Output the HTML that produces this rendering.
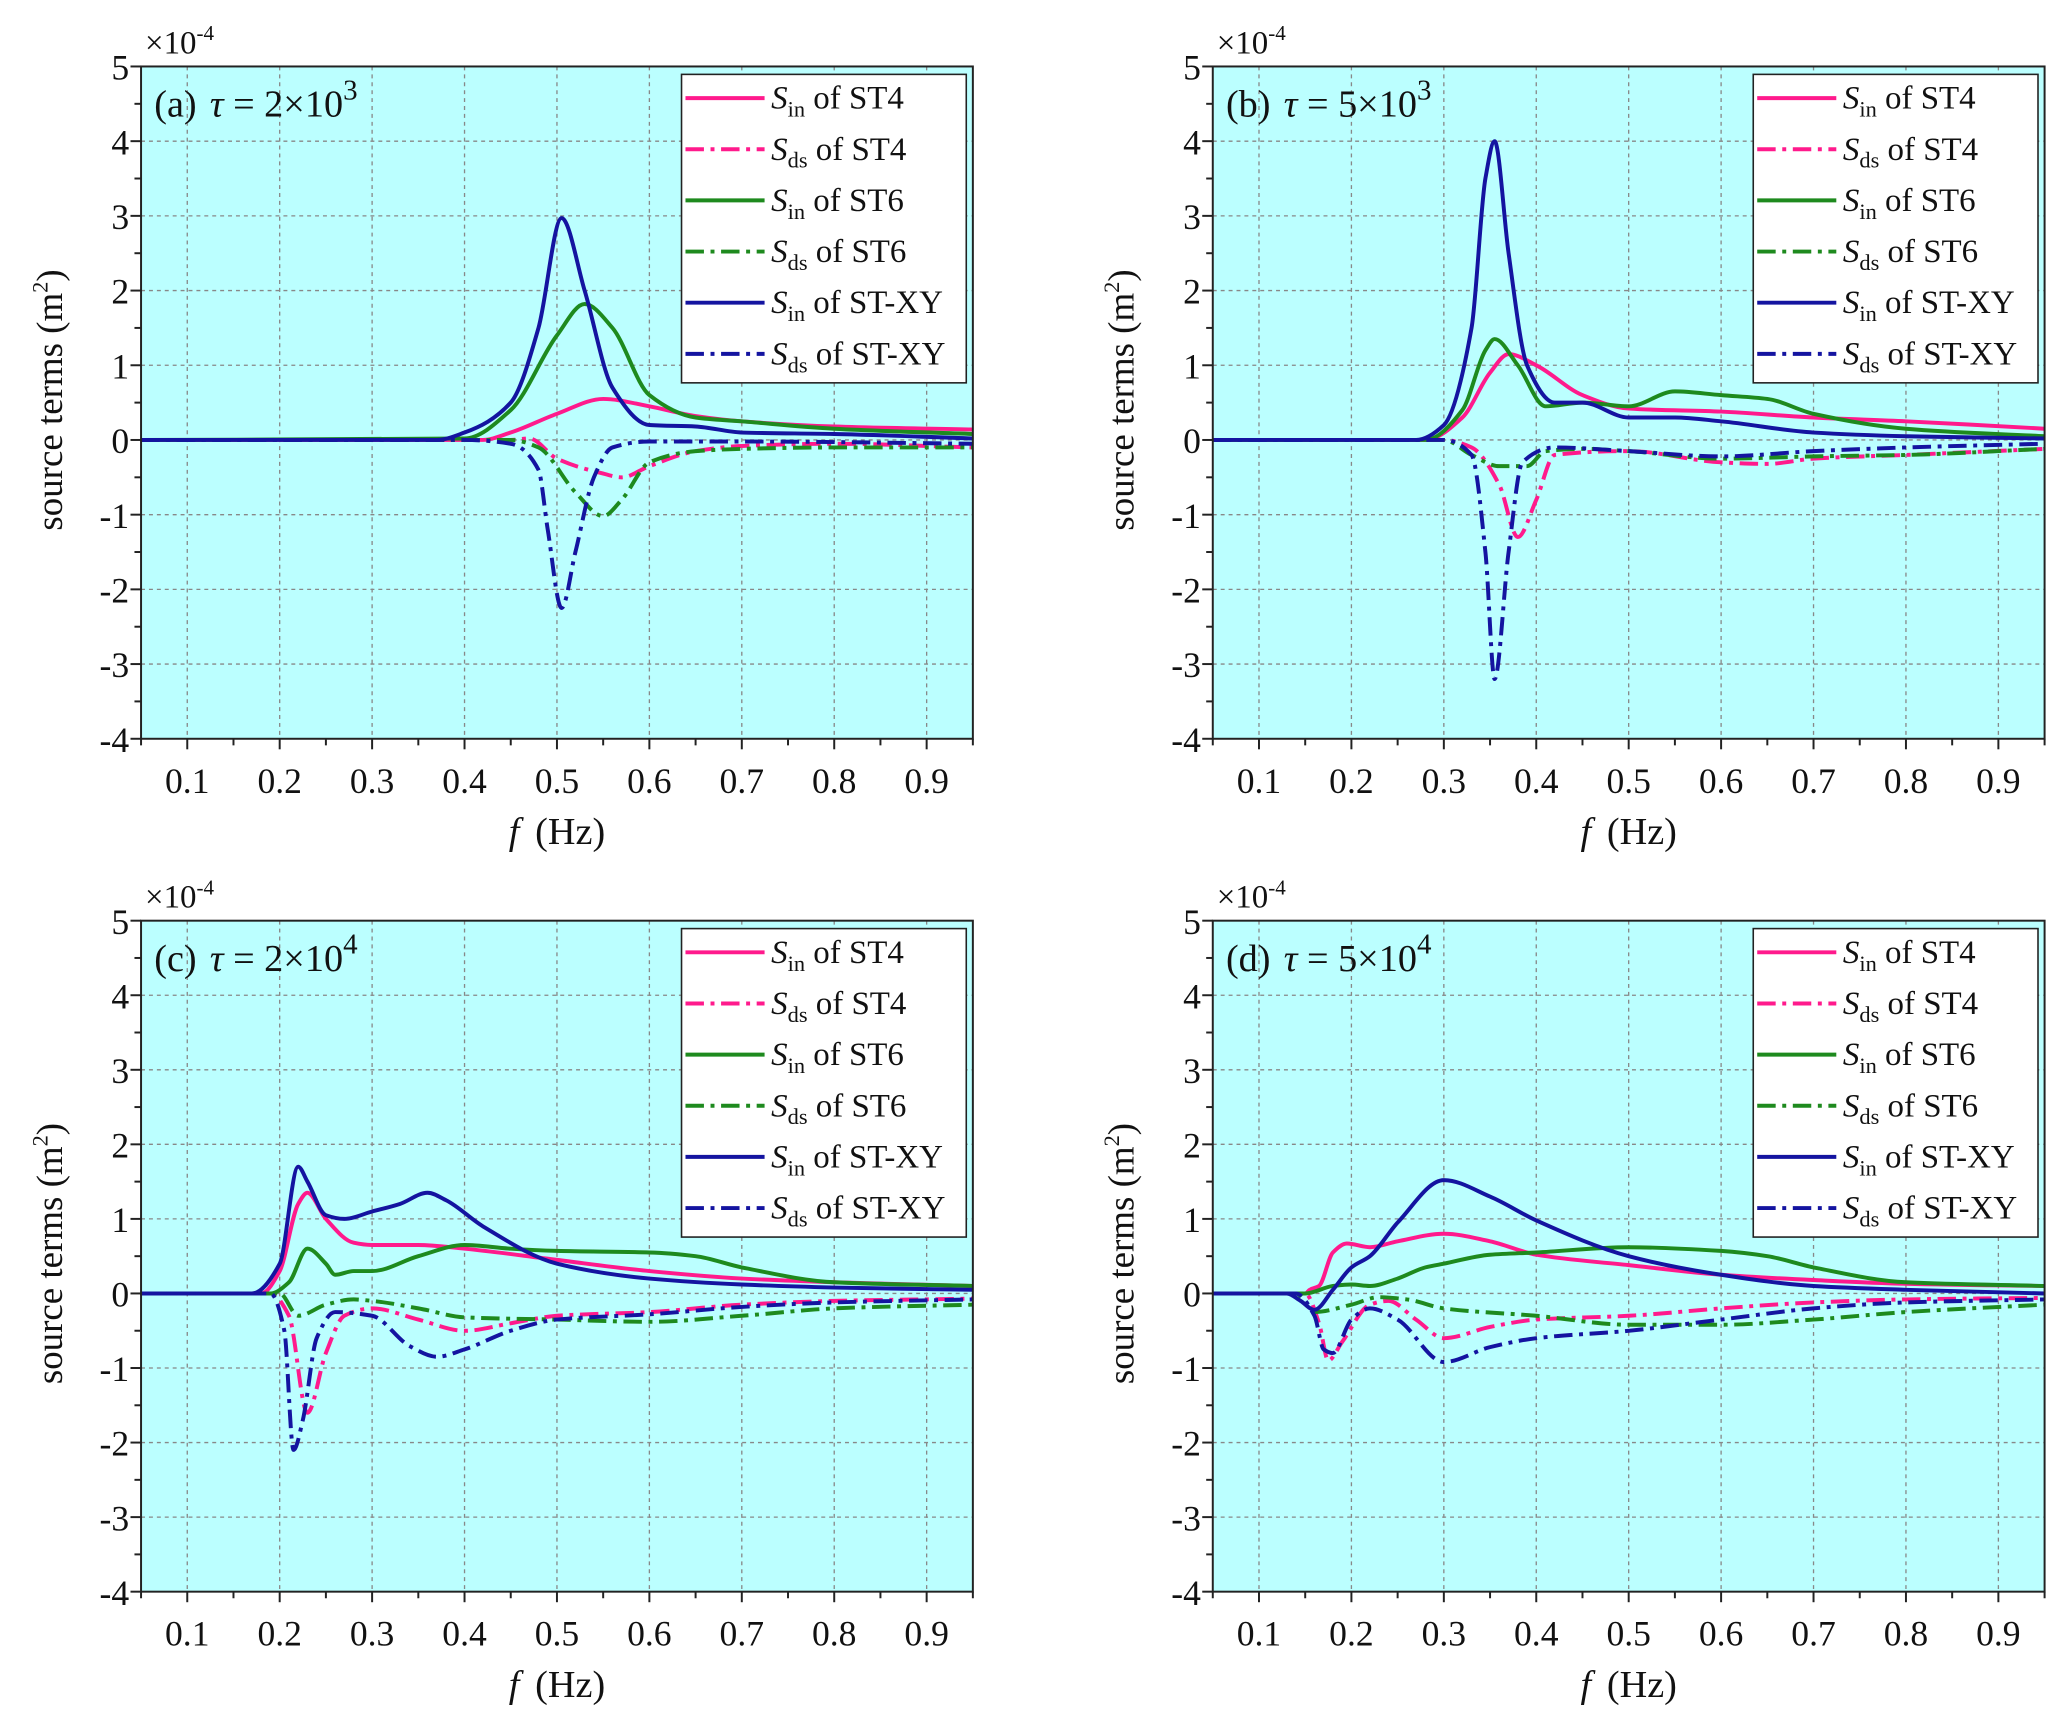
<!DOCTYPE html>
<html><head><meta charset="utf-8"><style>
html,body{margin:0;padding:0;background:#fff}
svg{display:block}
text{font-family:"Liberation Serif",serif;fill:#111}
</style></head><body>
<svg id="fig" width="2067" height="1728" viewBox="0 0 1568 1310" xmlns="http://www.w3.org/2000/svg"></svg>
<script>
const xTicks=[0.1,0.2,0.3,0.4,0.5,0.6,0.7,0.8,0.9];
const yTicks=[-4,-3,-2,-1,0,1,2,3,4,5];
const panelLabels=["(a)","(b)","(c)","(d)"];
const panelTau=[["2","3"],["5","3"],["2","4"],["5","4"]];
const seriesNames=["ST4","ST4","ST6","ST6","ST-XY","ST-XY"];
const seriesKind=["in","ds","in","ds","in","ds"];
// panel a
const fA_in4=[0.05,0.42,0.45,0.5,0.55,0.6,0.65,0.7,0.8,0.95];
const vA_in4=[0,0,0.1,0.35,0.55,0.45,0.32,0.25,0.18,0.14];
const fA_ds4=[0.05,0.45,0.47,0.5,0.55,0.57,0.6,0.65,0.7,0.8,0.95];
const vA_ds4=[0,0,0.02,-0.25,-0.45,-0.5,-0.35,-0.15,-0.08,-0.05,-0.1];
const fA_in6=[0.05,0.4,0.45,0.5,0.53,0.56,0.6,0.65,0.7,0.8,0.95];
const vA_in6=[0,0.02,0.4,1.4,1.82,1.5,0.6,0.3,0.25,0.15,0.08];
const fA_ds6=[0.05,0.45,0.48,0.52,0.55,0.57,0.6,0.65,0.7,0.8,0.95];
const vA_ds6=[0,0,-0.1,-0.7,-1.02,-0.8,-0.3,-0.15,-0.12,-0.1,-0.1];
const fA_inX=[0.05,0.37,0.4,0.45,0.48,0.505,0.53,0.56,0.6,0.65,0.7,0.8,0.95];
const vA_inX=[0,0,0.1,0.5,1.5,2.97,2.0,0.7,0.2,0.18,0.1,0.08,0.02];
const fA_dsX=[0.05,0.4,0.45,0.48,0.49,0.505,0.52,0.54,0.56,0.6,0.7,0.95];
const vA_dsX=[0,0,-0.05,-0.4,-1.2,-2.25,-1.5,-0.5,-0.1,-0.02,-0.02,-0.05];
// panel b
const fB_in4=[0.05,0.28,0.32,0.35,0.37,0.4,0.45,0.5,0.6,0.7,0.8,0.95];
const vB_in4=[0,0,0.3,0.9,1.15,1.0,0.6,0.42,0.38,0.3,0.25,0.15];
const fB_ds4=[0.05,0.3,0.33,0.36,0.38,0.4,0.42,0.5,0.6,0.65,0.7,0.8,0.95];
const vB_ds4=[0,0,-0.1,-0.6,-1.3,-0.8,-0.2,-0.15,-0.3,-0.32,-0.25,-0.2,-0.12];
const fB_in6=[0.05,0.28,0.32,0.345,0.355,0.38,0.41,0.45,0.5,0.55,0.6,0.65,0.7,0.8,0.95];
const vB_in6=[0,0,0.4,1.2,1.35,1.0,0.45,0.5,0.45,0.65,0.6,0.55,0.35,0.15,0.05];
const fB_ds6=[0.05,0.3,0.33,0.36,0.39,0.41,0.45,0.5,0.6,0.7,0.8,0.95];
const vB_ds6=[0,0,-0.2,-0.35,-0.35,-0.15,-0.12,-0.15,-0.25,-0.22,-0.2,-0.12];
const fB_inX=[0.05,0.27,0.3,0.33,0.345,0.355,0.37,0.39,0.42,0.45,0.5,0.55,0.6,0.7,0.8,0.95];
const vB_inX=[0,0,0.2,1.5,3.5,4.0,2.5,1.0,0.5,0.5,0.3,0.3,0.25,0.1,0.05,0.02];
const fB_dsX=[0.05,0.3,0.33,0.345,0.355,0.37,0.385,0.42,0.5,0.6,0.7,0.8,0.95];
const vB_dsX=[0,0,-0.2,-1.5,-3.2,-1.5,-0.3,-0.1,-0.15,-0.22,-0.15,-0.1,-0.05];
// panel c
const fC_in4=[0.05,0.18,0.2,0.22,0.23,0.25,0.28,0.3,0.35,0.4,0.5,0.6,0.7,0.8,0.95];
const vC_in4=[0,0,0.3,1.2,1.35,1.0,0.68,0.65,0.65,0.6,0.45,0.3,0.2,0.15,0.1];
const fC_ds4=[0.05,0.19,0.21,0.23,0.25,0.27,0.3,0.35,0.4,0.45,0.5,0.6,0.7,0.8,0.95];
const vC_ds4=[0,0,-0.3,-1.6,-0.8,-0.3,-0.2,-0.35,-0.5,-0.4,-0.3,-0.25,-0.15,-0.1,-0.07];
const fC_in6=[0.05,0.19,0.21,0.23,0.25,0.26,0.28,0.3,0.35,0.4,0.45,0.5,0.6,0.65,0.7,0.8,0.95];
const vC_in6=[0,0,0.15,0.6,0.4,0.25,0.3,0.3,0.5,0.65,0.6,0.57,0.55,0.5,0.35,0.15,0.1];
const fC_ds6=[0.05,0.2,0.22,0.25,0.28,0.3,0.35,0.4,0.5,0.6,0.7,0.8,0.95];
const vC_ds6=[0,0,-0.3,-0.15,-0.08,-0.1,-0.2,-0.32,-0.35,-0.38,-0.3,-0.2,-0.15];
const fC_inX=[0.05,0.17,0.2,0.22,0.23,0.25,0.27,0.3,0.33,0.36,0.38,0.42,0.5,0.6,0.7,0.8,0.95];
const vC_inX=[0,0,0.4,1.7,1.5,1.05,1.0,1.1,1.2,1.35,1.25,0.9,0.4,0.2,0.12,0.08,0.05];
const fC_dsX=[0.05,0.19,0.205,0.215,0.225,0.24,0.26,0.3,0.34,0.37,0.4,0.45,0.5,0.6,0.7,0.8,0.95];
const vC_dsX=[0,0,-0.5,-2.1,-1.7,-0.6,-0.25,-0.3,-0.7,-0.85,-0.75,-0.5,-0.35,-0.28,-0.18,-0.12,-0.08];
// panel d
const fD_in4=[0.05,0.15,0.155,0.165,0.18,0.195,0.22,0.25,0.3,0.35,0.4,0.5,0.6,0.7,0.8,0.95];
const vD_in4=[0,0,0.05,0.1,0.55,0.67,0.62,0.7,0.8,0.7,0.52,0.38,0.25,0.18,0.13,0.1];
const fD_ds4=[0.05,0.15,0.165,0.175,0.19,0.22,0.24,0.27,0.3,0.35,0.4,0.5,0.6,0.7,0.8,0.95];
const vD_ds4=[0,0,-0.4,-0.9,-0.65,-0.15,-0.1,-0.35,-0.6,-0.45,-0.35,-0.3,-0.2,-0.12,-0.08,-0.06];
const fD_in6=[0.05,0.12,0.15,0.18,0.2,0.22,0.25,0.28,0.3,0.35,0.4,0.5,0.6,0.65,0.7,0.8,0.95];
const vD_in6=[0,0,0,0.1,0.12,0.1,0.2,0.35,0.4,0.52,0.55,0.62,0.57,0.5,0.35,0.15,0.1];
const fD_ds6=[0.05,0.14,0.16,0.2,0.23,0.26,0.3,0.4,0.5,0.6,0.7,0.8,0.95];
const vD_ds6=[0,0,-0.25,-0.15,-0.05,-0.08,-0.2,-0.3,-0.42,-0.42,-0.35,-0.25,-0.15];
const fD_inX=[0.05,0.13,0.145,0.16,0.18,0.2,0.22,0.25,0.3,0.35,0.4,0.5,0.6,0.7,0.8,0.95];
const vD_inX=[0,0,-0.1,-0.22,0.05,0.35,0.5,0.95,1.52,1.3,0.98,0.5,0.25,0.1,0.05,0];
const fD_dsX=[0.05,0.14,0.16,0.17,0.18,0.2,0.22,0.25,0.3,0.35,0.4,0.5,0.6,0.7,0.8,0.95];
const vD_dsX=[0,0,-0.3,-0.75,-0.8,-0.35,-0.2,-0.35,-0.92,-0.72,-0.6,-0.5,-0.35,-0.2,-0.12,-0.08];

const panelsData=[
 [[fA_in4,vA_in4],[fA_ds4,vA_ds4],[fA_in6,vA_in6],[fA_ds6,vA_ds6],[fA_inX,vA_inX],[fA_dsX,vA_dsX]],
 [[fB_in4,vB_in4],[fB_ds4,vB_ds4],[fB_in6,vB_in6],[fB_ds6,vB_ds6],[fB_inX,vB_inX],[fB_dsX,vB_dsX]],
 [[fC_in4,vC_in4],[fC_ds4,vC_ds4],[fC_in6,vC_in6],[fC_ds6,vC_ds6],[fC_inX,vC_inX],[fC_dsX,vC_dsX]],
 [[fD_in4,vD_in4],[fD_ds4,vD_ds4],[fD_in6,vD_in6],[fD_ds6,vD_ds6],[fD_inX,vD_inX],[fD_dsX,vD_dsX]]
];
const colors=["#ff1a8c","#ff1a8c","#1e8a1e","#1e8a1e","#1414a0","#1414a0"];
const NS="http://www.w3.org/2000/svg";
const svg=document.getElementById('fig');
function mk(tag,attrs,parent){const e=document.createElementNS(NS,tag);for(const k in attrs)e.setAttribute(k,attrs[k]);(parent||svg).appendChild(e);return e;}
const boxes=[[107,738,50,560],[920,1551,50,560],[107,738,698,1207],[920,1551,698,1207]];
// monotone cubic (Fritsch-Carlson) path
function smooth(p){const n=p.length;const d=[],m=new Array(n).fill(0);
 for(let i=0;i<n-1;i++)d.push((p[i+1][1]-p[i][1])/(p[i+1][0]-p[i][0]));
 m[0]=d[0];m[n-1]=d[n-2];
 for(let i=1;i<n-1;i++){if(d[i-1]*d[i]<=0)m[i]=0;else{const h0=p[i][0]-p[i-1][0],h1=p[i+1][0]-p[i][0];const w1=2*h1+h0,w2=h1+2*h0;m[i]=(w1+w2)/(w1/d[i-1]+w2/d[i]);}}
 let s="M"+p[0][0].toFixed(1)+","+p[0][1].toFixed(1);
 for(let i=0;i<n-1;i++){const h=(p[i+1][0]-p[i][0])/3;
  s+=" C"+(p[i][0]+h).toFixed(1)+","+(p[i][1]+m[i]*h).toFixed(1)+" "+(p[i+1][0]-h).toFixed(1)+","+(p[i+1][1]-m[i+1]*h).toFixed(1)+" "+p[i+1][0].toFixed(1)+","+p[i+1][1].toFixed(1);}
 return s;}
boxes.forEach((b,pi)=>{
 const [L,R,T,B]=b;
 const X=f=>L+(f-0.05)/0.9*(R-L);
 const Y=v=>B-(v+4)/9*(B-T);
 const g=mk('g',{});
 
 
 const bg=mk('rect',{x:L,y:T,width:R-L,height:B-T,fill:"#bbffff"},g);
 
 
 xTicks.forEach(t=>{const l=mk('line',{x1:X(t),x2:X(t),y1:T,y2:B,stroke:"#888","stroke-width":1,"stroke-dasharray":"3 3"},g);});
 yTicks.forEach(t=>{const l=mk('line',{x1:L,x2:R,y1:Y(t),y2:Y(t),stroke:"#888","stroke-width":1,"stroke-dasharray":"3 3"},g);});
 const clip=mk('clipPath',{id:'c'+pi},g);mk('rect',{x:L,y:T,width:R-L,height:B-T},clip);
 panelsData[pi].forEach((s,si)=>{
  const pts=s[0].map((f,i)=>[X(f),Y(s[1][i])]);
  const p=mk('path',{d:smooth(pts),fill:"none",stroke:colors[si],"stroke-width":3,"clip-path":"url(#c"+pi+")","stroke-linejoin":"round"},g);
  if(seriesKind[si]==="ds")p.setAttribute('stroke-dasharray',"14 5 3 5");
  
  
 });
 mk('rect',{x:L,y:T,width:R-L,height:B-T,fill:"none",stroke:"#222","stroke-width":1.5},g);
 for(let f=0.05;f<=0.951;f+=0.05){const major=Math.abs(f*10-Math.round(f*10))<1e-6;mk('line',{x1:X(f),x2:X(f),y1:B,y2:B+(major?8:5),stroke:"#222","stroke-width":1.5},g);}
 for(let v=-4;v<=5.001;v+=0.5){const major=Math.abs(v-Math.round(v))<1e-6;mk('line',{x1:L,x2:L-(major?8:5),y1:Y(v),y2:Y(v),stroke:"#222","stroke-width":1.5},g);}
 xTicks.forEach(t=>{const tx=mk('text',{x:X(t),y:B+41,"font-size":27,"text-anchor":"middle"},g);tx.textContent=t.toFixed(1);});
 yTicks.forEach(t=>{const tx=mk('text',{x:L-9,y:Y(t)+10,"font-size":27,"text-anchor":"end"},g);tx.textContent=String(t);});
 const xt=mk('text',{x:(L+R)/2,y:B+80,"font-size":29,"text-anchor":"middle"},g);
 xt.innerHTML='<tspan font-style="italic">f</tspan><tspan dx="12">(Hz)</tspan>';
 
 const yt=mk('text',{x:0,y:0,"font-size":28,"text-anchor":"middle",transform:"translate("+(L-60)+","+((T+B)/2-2)+") rotate(-90)"},g);
 yt.innerHTML='source terms (m<tspan font-size="17" dy="-11">2</tspan><tspan dy="11">)</tspan>';
 
 const ex=mk('text',{x:L+3,y:T-10,"font-size":25},g);
 ex.innerHTML='×10<tspan font-size="16" dy="-10">-4</tspan>';
 
 const ti=mk('text',{x:L+10,y:T+38,"font-size":29},g);
 ti.innerHTML=panelLabels[pi]+'<tspan dx="10" font-style="italic">τ</tspan> = '+panelTau[pi][0]+'×10<tspan font-size="22" dy="-13">'+panelTau[pi][1]+'</tspan>';
 
 const lg=mk('g',{},g);
 
 const lx=L+410, ly=T+6;
 mk('rect',{x:lx,y:ly,width:216,height:234,fill:"#fff",stroke:"#222","stroke-width":1.2},lg);
 seriesNames.forEach((n,si)=>{
  const ry=ly+18+si*38.8;
  const e=mk('g',{},lg);
  
  const ln=mk('line',{x1:lx+3,x2:lx+63,y1:ry,y2:ry,stroke:colors[si],"stroke-width":3},e);
  if(seriesKind[si]==="ds")ln.setAttribute('stroke-dasharray',"14 5 3 5");
  const tx=mk('text',{x:lx+68,y:ry+8,"font-size":25},e);
  tx.innerHTML='<tspan font-style="italic">S</tspan><tspan font-size="17" dy="6">'+seriesKind[si]+'</tspan><tspan dy="-6"> of '+n+'</tspan>';
 });
});
</script>
</body></html>
